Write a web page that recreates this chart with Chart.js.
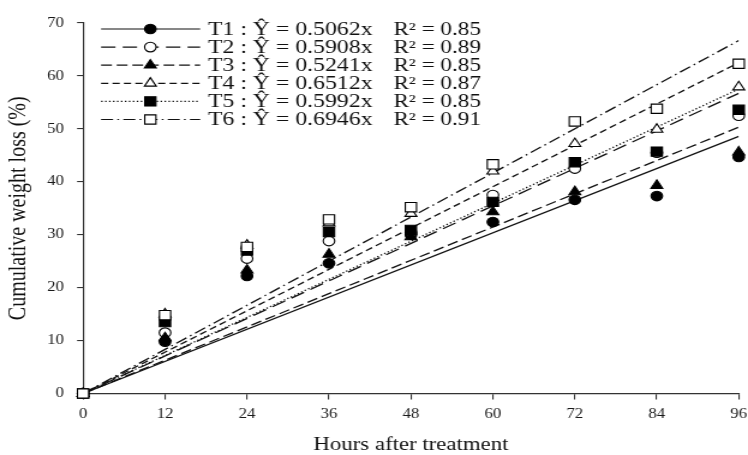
<!DOCTYPE html>
<html>
<head>
<meta charset="utf-8">
<script src="https://cdn.jsdelivr.net/npm/chart.js@4/dist/chart.umd.min.js"></script>
<style>
html,body{margin:0;padding:0;background:#fff;overflow:hidden;}
#wrap{width:748px;height:455px;position:relative;}
#c{display:block;}
</style>
</head>
<body>
<div id="wrap"><canvas id="c" width="623" height="455" style="width:748px;height:455px;"></canvas></div>
<script>
const hours = [0, 12, 24, 36, 48, 60, 72, 84, 96];
const t1 = [0, 9.8, 22.2, 24.6, 30.0, 32.4, 36.6, 37.3, 44.7];
const t2 = [0, 11.5, 25.5, 28.8, 30.4, 37.5, 42.5, 45.5, 52.5];
const t3 = [0, 10.5, 23.3, 26.3, 29.6, 34.3, 38.1, 39.3, 45.6];
const t4 = [0, 15.0, 28.0, 32.2, 34.0, 42.0, 47.2, 49.9, 57.9];
const t5 = [0, 13.5, 27.0, 30.5, 30.9, 36.2, 43.7, 45.7, 53.6];
const t6 = [0, 14.8, 27.7, 32.9, 35.2, 43.3, 51.4, 53.8, 62.3];
const treatments = ['T1', 'T2', 'T3', 'T4', 'T5', 'T6'];
const slopes = [0.5062, 0.5908, 0.5241, 0.6512, 0.5992, 0.6946];
const r2 = ['0.85', '0.89', '0.85', '0.87', '0.85', '0.91'];
const yTicks = [0, 10, 20, 30, 40, 50, 60, 70];
const xTitle = 'Hours after treatment';
const yTitle = 'Cumulative weight loss (%)';

const series = [t1, t2, t3, t4, t5, t6];
const markerStyle = ['circle', 'circle', 'triangle', 'triangle', 'rect', 'rect'];
const markerFill = ['#000', '#fff', '#000', '#fff', '#000', '#fff'];
const markerRadius = [4.8, 4.8, 5.7, 5.7, 6.6, 6.6];
const dashes = [[], [12, 6], [9, 4], [6, 3.5], [1.3, 2], [10, 3.5, 1.5, 3.5]];
const SERIF = '"Liberation Serif", "Times New Roman", serif';

const datasets = [];
series.forEach((vals, i) => {
  datasets.push({
    type: 'line',
    label: treatments[i] + ' fit',
    data: [{x: hours[0], y: slopes[i] * hours[0]}, {x: hours[hours.length - 1], y: slopes[i] * hours[hours.length - 1]}],
    borderColor: '#111',
    borderWidth: 1.3,
    borderDash: dashes[i],
    pointRadius: 0,
    fill: false,
    order: 10
  });
});
series.forEach((vals, i) => {
  datasets.push({
    type: 'scatter',
    label: treatments[i],
    data: hours.map((h, k) => ({x: h, y: vals[k]})),
    pointStyle: markerStyle[i],
    pointRadius: markerRadius[i],
    pointBackgroundColor: markerFill[i],
    pointBorderColor: '#000',
    pointBorderWidth: 1.1,
    showLine: false,
    clip: false,
    order: 6 - i
  });
});

const legendPlugin = {
  id: 'eqLegend',
  afterDatasetsDraw(chart) {
    const ctx = chart.ctx;
    const a = chart.chartArea;
    ctx.save();
    treatments.forEach((t, i) => {
      const y = a.top + 6 + i * 18.1;
      const x0 = a.left + 15, x1 = a.left + 97.5, xm = a.left + 56;
      ctx.beginPath();
      ctx.setLineDash(dashes[i]);
      ctx.strokeStyle = '#111';
      ctx.lineWidth = 1.2;
      ctx.moveTo(x0, y);
      ctx.lineTo(x1, y);
      ctx.stroke();
      ctx.setLineDash([]);
      ctx.fillStyle = markerFill[i];
      ctx.strokeStyle = '#000';
      ctx.lineWidth = 1.1;
      Chart.helpers.drawPoint(ctx, {pointStyle: markerStyle[i], radius: markerRadius[i], rotation: 0, borderWidth: 1.1}, xm, y);
      ctx.fillStyle = '#111';
      ctx.font = '18px ' + SERIF;
      ctx.textBaseline = 'middle';
      ctx.textAlign = 'left';
      ctx.save();
      ctx.translate(a.left + 104, y + 1);
      ctx.scale(1.1, 1);
      ctx.fillText(t + ' : \u0176 = ' + slopes[i].toFixed(4) + 'x', 0, 0);
      ctx.restore();
      ctx.save();
      ctx.translate(a.left + 258.5, y + 1);
      ctx.scale(1.07, 1);
      ctx.fillText('R\u00B2 = ' + r2[i], 0, 0);
      ctx.restore();
    });
    ctx.restore();
  }
};

new Chart(document.getElementById('c'), {
  data: {datasets},
  options: {
    responsive: false,
    animation: false,
    devicePixelRatio: 1,
    layout: {padding: {top: 23, right: 7, left: 0, bottom: 0}},
    plugins: {legend: {display: false}, tooltip: {enabled: false}},
    scales: {
      x: {
        type: 'linear',
        min: 0, max: 96,
        afterBuildTicks(s) { s.ticks = hours.map(v => ({value: v})); },
        afterFit(s) { s.height = 61.5; s.paddingRight = 0; s.paddingLeft = 0; },
        grid: {drawOnChartArea: false, drawTicks: true, tickLength: 6, color: '#333', lineWidth: 1.1},
        border: {display: true, color: '#333', width: 1.2},
        ticks: {color: '#1a1a1a', font: {family: SERIF, size: 14}, padding: 6.6, maxRotation: 0},
        title: {display: true, text: xTitle, color: '#111', font: {family: SERIF, size: 19, lineHeight: 1.0}, padding: {top: 0, bottom: 0}}
      },
      y: {
        min: 0, max: 70,
        afterBuildTicks(s) { s.ticks = yTicks.map(v => ({value: v})); },
        afterFit(s) { s.width = 69.2; s.paddingTop = 0; s.paddingBottom = 0; },
        grid: {drawOnChartArea: false, drawTicks: true, tickLength: 5, color: '#333', lineWidth: 1.1},
        border: {display: true, color: '#333', width: 1.2},
        ticks: {color: '#1a1a1a', font: {family: SERIF, size: 14}, padding: 10.9},
        title: {display: true, text: yTitle, color: '#111', font: {family: SERIF, size: 20}, padding: {top: 4, bottom: 0}}
      }
    }
  },
  plugins: [legendPlugin]
});
</script>
</body>
</html>
